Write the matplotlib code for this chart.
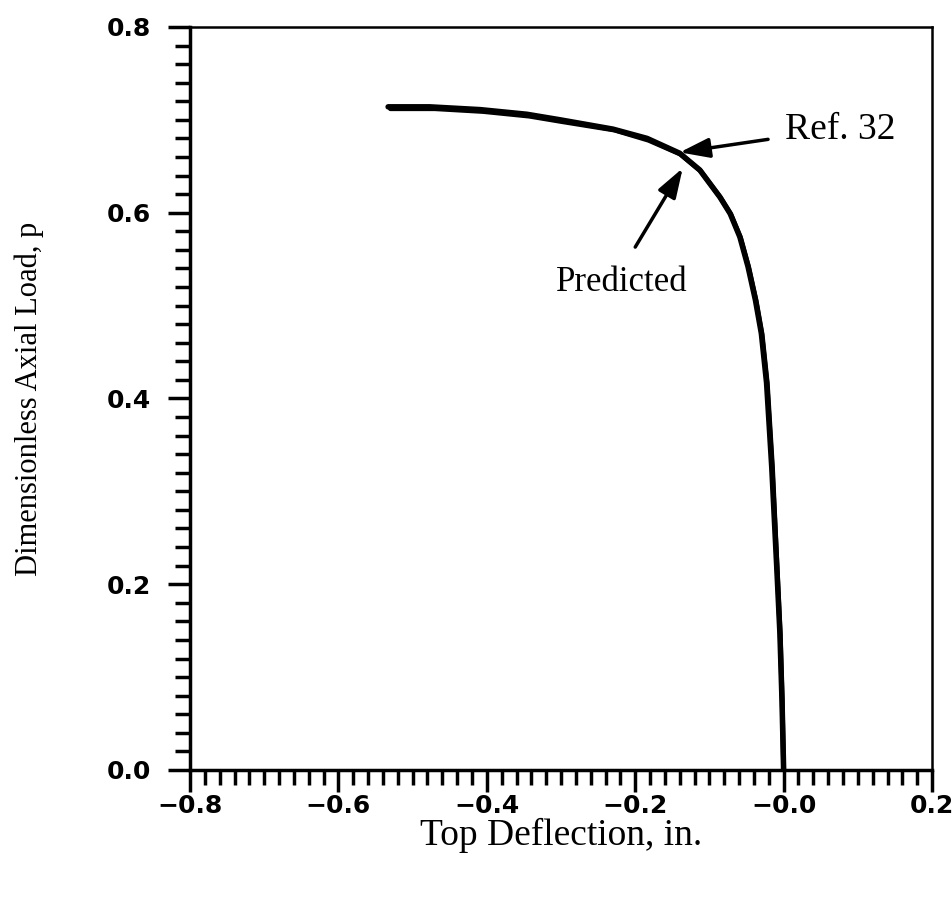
import matplotlib.pyplot as plt
from matplotlib.ticker import MultipleLocator

# curve points
ref_x = [-0.533, -0.477, -0.409, -0.346, -0.301, -0.230, -0.184, -0.140, -0.113, -0.086,
         -0.072, -0.059, -0.048, -0.038, -0.030, -0.023, -0.016, -0.0093, -0.005,
         -0.0022, 0.0]
ref_y = [0.714, 0.714, 0.711, 0.706, 0.700, 0.690, 0.680, 0.664, 0.646, 0.617,
         0.599, 0.574, 0.542, 0.506, 0.470, 0.417, 0.326, 0.219, 0.147,
         0.075, 0.0]
pred_x = [-0.530, -0.470, -0.405, -0.343, -0.298, -0.228, -0.182, -0.139, -0.112, -0.085,
          -0.071, -0.058, -0.047, -0.037, -0.029, -0.022, -0.015, -0.0088, -0.0046,
          -0.0019, 0.0]
pred_y = [0.712, 0.712, 0.709, 0.704, 0.698, 0.689, 0.678, 0.663, 0.645, 0.616,
          0.598, 0.573, 0.541, 0.505, 0.469, 0.416, 0.325, 0.218, 0.146,
          0.074, 0.0]

serif = 'Liberation Serif'

fig = plt.figure(figsize=(9.53, 9.05), dpi=100)
ax = fig.add_axes([0.1994, 0.1492, 0.7786, 0.821])

ax.plot(ref_x, ref_y, color='black', lw=4, solid_joinstyle='round', solid_capstyle='round')
ax.plot(pred_x, pred_y, color='black', lw=3.5, solid_joinstyle='round', solid_capstyle='round')

ax.set_xlim(-0.8, 0.2)
ax.set_ylim(0.0, 0.8)
ax.xaxis.set_minor_locator(MultipleLocator(0.02))
ax.yaxis.set_minor_locator(MultipleLocator(0.02))
ax.set_xticks([-0.8, -0.6, -0.4, -0.2, 0.0, 0.2])
ax.set_xticklabels(['\u22120.8', '\u22120.6', '\u22120.4', '\u22120.2', '\u22120.0', '0.2'])
ax.set_yticks([0.0, 0.2, 0.4, 0.6, 0.8])
ax.set_yticklabels(['0.0', '0.2', '0.4', '0.6', '0.8'])

ax.tick_params(which='major', direction='out', length=16, width=2.5, labelsize=18)
ax.tick_params(which='minor', direction='out', length=11, width=2.5)
ax.tick_params(axis='x', which='major', pad=1)
ax.tick_params(axis='y', which='major', pad=12)
for lab in ax.get_xticklabels() + ax.get_yticklabels():
    lab.set_fontweight('heavy')

ax.spines['left'].set_linewidth(2.5)
ax.spines['bottom'].set_linewidth(2.5)
ax.spines['top'].set_linewidth(1.8)
ax.spines['right'].set_linewidth(1.8)

ax.set_xlabel('Top Deflection, in.', family=serif, fontsize=27, labelpad=0)
ax.set_ylabel('Dimensionless Axial Load, p', family=serif, fontsize=22, labelpad=45)

arrow = dict(arrowstyle='-|>,head_length=0.9,head_width=0.3', color='black', lw=2.5,
             mutation_scale=20, shrinkA=0, shrinkB=0)
ax.annotate('', xy=(-0.140, 0.665), xytext=(-0.021, 0.679), arrowprops=arrow)
ax.annotate('', xy=(-0.136, 0.648), xytext=(-0.200, 0.563), arrowprops=arrow)
ax.text(0.002, 0.689, 'Ref. 32', family=serif, fontsize=27, va='center', ha='left')
ax.text(-0.218, 0.525, 'Predicted', family=serif, fontsize=25, va='center', ha='center')

fig.savefig('out.png')
